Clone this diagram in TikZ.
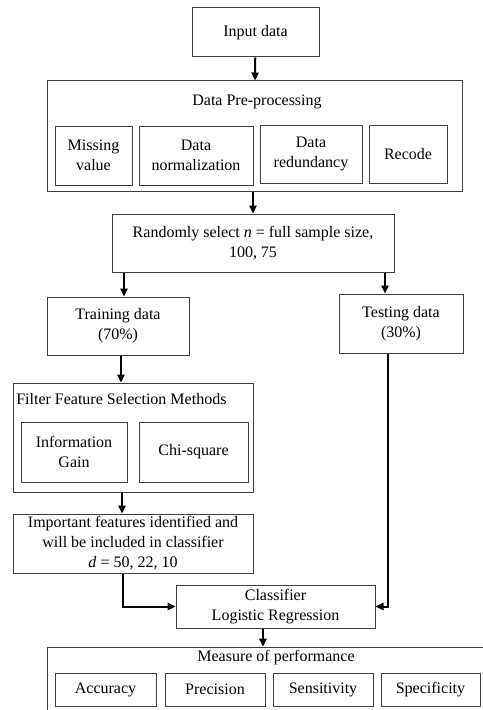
\documentclass[tikz,border=0pt]{standalone}
\usepackage{fontspec}
\setmainfont{Liberation Serif}
\usetikzlibrary{arrows.meta}

\begin{document}
\begin{tikzpicture}[x=0.75pt,y=-0.75pt,
    every node/.style={inner sep=0pt, font=\fontsize{12}{15}\selectfont},
    box/.style={draw=black!75, line width=0.75pt, align=center},
    flow/.style={line width=1.5pt, -{Triangle[width=5.5pt,length=6pt]}}]
  \useasboundingbox (0,0) rectangle (482,710);

  % Input and pre-processing
  \node[box, minimum width=95.25pt, minimum height=36.75pt] (input) at (255.5,32.5) {Input data};
  \node[box, minimum width=311.25pt, minimum height=82.5pt] (prep) at (254.5,136) {};
  \node (prepTitle) at (257,102) {Data Pre-processing};
  \node[box, minimum width=57.75pt, minimum height=44.25pt] (missing) at (93.5,155.5) {Missing\\value};
  \node[box, minimum width=85.5pt, minimum height=44.25pt] (norm) at (196,155.5) {Data\\normalization};
  \node[box, minimum width=76.5pt, minimum height=43.5pt] (redund) at (311,154) {Data\\redundancy};
  \node[box, minimum width=58.5pt, minimum height=43.5pt] (recode) at (408,154) {Recode};

  % Sampling and split
  \node[box, minimum width=211.5pt, minimum height=43.5pt] (random) at (253,243) {Randomly select \textit{n} = full sample size,\\100, 75};
  \node[box, minimum width=106.5pt, minimum height=43.5pt] (train) at (118,326) {Training data\\(70\%)};
  \node[box, minimum width=93pt, minimum height=44.25pt] (test) at (401,323.5) {Testing data\\(30\%)};

  % Feature selection
  \node[box, minimum width=180pt, minimum height=81.75pt] (filter) at (133,437.5) {};
  \node[anchor=west] (filterTitle) at (16,399) {Filter Feature Selection Methods};
  \node[box, minimum width=79.5pt, minimum height=45pt] (infogain) at (74,452) {Information\\Gain};
  \node[box, minimum width=81.75pt, minimum height=45pt] (chisq) at (193.5,452) {Chi-square};
  \node[box, minimum width=180pt, minimum height=44.25pt] (features) at (133,543.5) {Important features identified and\\will be included in classifier\\\textit{d} = 50, 22, 10};

  % Classifier and performance
  \node[box, minimum width=149.25pt, minimum height=32.25pt] (clf) at (275.5,606.5) {Classifier\\Logistic Regression};
  \node[box, minimum width=336pt, minimum height=58.5pt] (measure) at (271,686) {};
  \node (measureTitle) at (276,658) {Measure of performance};
  \node[box, minimum width=75.75pt, minimum height=24.75pt] (acc) at (105.5,689.5) {Accuracy};
  \node[box, minimum width=75pt, minimum height=24.75pt] (prec) at (215,689.5) {Precision};
  \node[box, minimum width=75pt, minimum height=24.75pt] (sens) at (323,689.5) {Sensitivity};
  \node[box, minimum width=74.25pt, minimum height=24.75pt] (spec) at (430.5,689.5) {Specificity};

  % Arrows
  \draw[flow] (input) -- (prep);
  \draw[flow] (prep.south -| random) -- (random);
  \draw[flow, transform canvas={xshift=4.5pt}] (random.south -| train) -- (train);
  \draw[flow, transform canvas={xshift=-12pt}] (random.south -| test) -- (test);
  \draw[flow, transform canvas={xshift=2.25pt}] (train) -- (train.south |- filter.north);
  \draw[flow, transform canvas={xshift=-8.25pt}] (filter) -- (filter.south |- features.north);
  \draw[flow] ([xshift=-7.5pt]features.south) |- (clf.west);
  \draw[flow] ([xshift=-9.75pt]test.south) |- (clf.east);
  \draw[flow, transform canvas={xshift=-9.4pt}] (clf) -- (clf.south |- measure.north);
\end{tikzpicture}
\end{document}
